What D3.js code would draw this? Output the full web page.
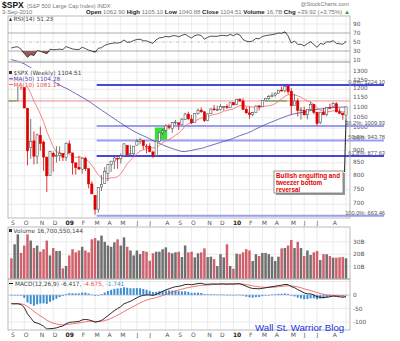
<!DOCTYPE html>
<html><head><meta charset="utf-8">
<script src="https://cdn.jsdelivr.net/npm/d3@7"></script>
<style>body{margin:0;background:#fff}svg{display:block}</style>
</head><body>
<svg id="c" width="400" height="341"></svg>
<script>
// ---------------- DATA ----------------
const firstWeekEnding = "2008-09-05";
// 49 weekly closes before the window (used for MA / RSI / MACD warm-up)
const priorClose = [1526.75,1557.59,1561.80,1500.63,1535.28,1509.65,1453.70,1458.74,1440.70,1481.14,1504.66,1467.95,1484.46,1478.49,1411.63,1401.02,1325.19,1330.61,1395.42,1331.29,1349.99,1353.11,1330.63,1293.37,1288.14,1329.51,1315.22,1370.40,1332.83,1390.33,1397.84,1413.90,1388.28,1425.35,1375.93,1400.38,1360.68,1360.03,1317.93,1278.38,1262.90,1239.49,1260.68,1257.76,1260.31,1296.32,1298.20,1292.20,1282.83];
const open = [1287.8,1249.5,1250.9,1255.4,1209.1,1097.6,912.8,942.0,876.8,966.3,
 936.8,873.2,801.2,888.6,876.1,879.7,887.2,872.4,929.2,890.4,
 849.6,832.5,825.4,868.2,826.8,770.0,729.6,684.0,758.8,771.8,
 809.1,842.5,856.9,868.3,866.2,879.2,922.0,884.2,887.0,923.3,
 940.1,943.4,918.1,919.0,894.3,880.0,940.6,979.0,990.2,1008.9,
 998.2,1026.1,1025.2,1016.4,1040.5,1067.9,1043.0,1026.0,1071.6,1088.2,
 1080.0,1036.2,1070.0,1094.1,1091.1,1091.5,1105.5,1106.4,1102.5,1127.0,
 1116.6,1145.0,1136.0,1092.4,1073.9,1065.5,1075.5,1110.0,1105.4,1138.4,
 1150.0,1160.0,1167.7,1178.1,1194.9,1192.1,1217.1,1188.6,1111.6,1136.0,
 1084.8,1087.3,1064.9,1092.0,1117.5,1077.5,1028.1,1077.2,1066.0,1102.9,
 1107.5,1121.1,1080.0,1073.0,1062.9];
const high = [1303.0,1274.4,1265.1,1255.4,1209.1,1098.0,1044.3,985.4,975.0,1007.5,
 943.5,873.2,896.3,896.3,918.9,918.9,887.2,934.7,943.9,890.4,
 851.6,877.9,870.8,875.0,826.8,779.4,729.6,758.3,803.0,833.0,
 845.6,856.9,875.6,871.8,888.7,930.2,922.0,924.6,920.0,951.7,
 956.2,943.4,928.0,931.9,898.7,944.0,979.8,996.7,1018.0,1020.2,
 1029.0,1039.5,1025.2,1048.2,1074.8,1080.2,1063.4,1071.5,1096.6,1101.4,
 1080.0,1071.5,1097.6,1113.7,1111.0,1119.1,1107.0,1117.7,1126.5,1130.4,
 1145.4,1150.4,1150.5,1103.7,1104.7,1080.0,1112.4,1112.4,1139.0,1150.0,
 1169.2,1181.0,1181.4,1194.7,1213.9,1219.8,1219.0,1205.1,1173.6,1150.0,
 1104.0,1105.7,1092.0,1131.2,1119.2,1078.6,1078.2,1099.1,1103.7,1121.0,
 1128.8,1129.2,1097.4,1073.0,1105.1];
const low = [1217.2,1233.4,1133.5,1197.2,1097.6,839.8,865.8,843.4,845.3,899.7,
 818.7,741.0,801.2,815.7,851.4,857.1,857.1,857.3,888.3,804.3,
 804.3,821.7,807.5,818.4,754.3,734.5,666.8,672.9,745.0,771.8,
 779.8,814.5,825.6,826.8,847.1,878.9,878.9,879.6,881.5,923.3,
 927.0,904.8,888.9,893.0,869.3,875.3,935.0,968.7,983.0,994.0,
 978.5,1016.2,991.0,1016.4,1040.5,1041.2,1019.0,1026.0,1065.1,1075.0,
 1029.4,1033.4,1070.0,1085.0,1083.1,1085.2,1085.9,1093.0,1102.5,1114.8,
 1116.6,1131.4,1090.2,1071.6,1044.5,1056.5,1075.5,1086.0,1105.4,1134.1,
 1141.5,1156.0,1159.0,1175.3,1186.8,1181.6,1173.2,1065.8,1111.6,1055.9,
 1040.8,1060.5,1042.2,1085.0,1066.6,1010.9,1018.4,1063.3,1056.9,1094.1,
 1104.0,1076.6,1069.3,1039.7,1040.9];
const close = [1242.3,1251.7,1255.1,1213.3,1099.2,899.2,940.6,876.8,968.8,931.0,
 873.3,800.0,896.2,876.1,879.7,887.9,872.8,931.8,890.4,850.1,
 832.0,825.9,868.6,826.8,770.1,735.1,683.4,756.6,768.5,815.9,
 842.5,856.6,869.6,866.2,877.5,929.2,882.9,887.0,919.1,940.1,
 946.2,921.2,918.9,896.4,879.1,940.4,979.3,987.5,1010.5,1004.1,
 1026.1,1028.9,1016.4,1042.7,1068.3,1044.4,1025.2,1071.5,1087.7,1079.6,
 1036.2,1069.3,1093.5,1091.4,1091.5,1106.0,1106.4,1102.5,1126.5,1115.1,
 1145.0,1136.0,1091.8,1073.9,1066.2,1075.5,1109.2,1104.5,1138.7,1150.0,
 1159.9,1166.6,1178.1,1194.4,1192.1,1217.3,1186.7,1110.9,1135.7,1087.7,
 1089.4,1064.9,1091.6,1117.5,1076.8,1022.6,1078.0,1064.9,1102.7,1101.6,
 1121.6,1079.3,1071.7,1064.6,1104.5];
const volumeB = [16.7,28,36,21,27,36,31,25,27,22,
 24,31,19,25,22.6,22.6,8.6,10.5,19,24,
 21.5,23,26,23,21.5,32,33,31,35,30,
 27,26,29.6,32,27,33.6,26,23,19,23,
 20,22.6,22,14.8,20.7,22,22,24,25.5,21.5,
 20.7,21.5,22,17.7,27,21.5,22,17.5,20.7,21.5,
 24.7,17.7,18,16,10.5,20,17.5,28,10.5,8.3,
 20.4,20,21.5,24,23,14.5,20,18.5,21,21,
 20,18,14.5,18,24.7,25,27,31.5,25,30,
 25,18.5,23,19.4,21.5,22.6,15.3,20,20,18.5,
 17.2,17.2,17.5,17.7,16.7];
const priceTicks = [700,750,800,850,900,950,1000,1050,1100,1150,1200,1250,1300];
const rsiTicks = [10,30,50,70,90];
const volTicks = [10,20,30];
const macdTicks = [0,-50,-100];
const fibPct = ["0.0%","38.2%","50.0%","61.8%","100.0%"];
const fibValue = [1224.10,1009.93,943.78,877.63,663.46];
const fibStartIndex = 26;          // week of the March 2009 low
const resistanceLevel = 1136;      // hand-drawn red line
const greenSegments = [[-1,1.7],[79.1,85.7]]; // bar-index spans of green marks on that level
const greenBox = {i0:44.6, i1:48.4, lo:943, hi:1003};
const noteLines = ["Bullish engulfing and","tweezer bottom","reversal"];

// ---------------- LAYOUT ----------------
const svg = d3.select("#c");
const L = 8, R = 350;
const P = {rsi:[16,62], main:[62,218], vol:[227,279], macd:[279,330]};
const n = close.length;
const x = d3.scaleLinear().domain([0, n-1]).range([11.4, 346]);
const yP = d3.scaleLog().domain([663.46, 1224.1]).range([215.7, 85]);
const yR = d3.scaleLinear().domain([10, 90]).range([60, 24]);
const yV = d3.scaleLinear().domain([0, 30]).range([279, 241.8]);
const yM = d3.scaleLinear().domain([-100, 0]).range([322, 295]);
const FONT = "DejaVu Sans, Verdana, sans-serif";
const AR = "Liberation Sans, Arial, sans-serif";

// dates
const t0 = d3.timeParse("%Y-%m-%d")(firstWeekEnding);
const dates = close.map((_, i) => d3.timeDay.offset(t0, 7*i));

// derived indicators
const all = priorClose.concat(close);
const off = priorClose.length;
const ma = k => close.map((_, i) => d3.mean(all.slice(off+i-k+1, off+i+1)));
const ma50 = ma(50), ma10 = ma(10);
function emaArr(a, k){const al=2/(k+1);const o=[];let e=null;
  a.forEach((v,i)=>{ if(v==null){o.push(null);return;} e = e==null? v : e + al*(v-e); o.push(e);}); return o;}
const e12 = emaArr(all,12), e26 = emaArr(all,26);
const macdAll = all.map((_,i)=> e12[i]-e26[i]);
const sigAll = emaArr(macdAll,9);
const macd = macdAll.slice(off), sig = sigAll.slice(off), hist = macd.map((m,i)=>m-sig[i]);
function rsiCalc(a,k){const o=new Array(a.length).fill(null);let g=0,l=0;
  for(let i=1;i<=k;i++){const d=a[i]-a[i-1]; if(d>0) g+=d; else l-=d;}
  let ag=g/k, al=l/k; o[k]=100-100/(1+ag/al);
  for(let i=k+1;i<a.length;i++){const d=a[i]-a[i-1];
    ag=(ag*(k-1)+Math.max(d,0))/k; al=(al*(k-1)+Math.max(-d,0))/k;
    o[i]= al===0?100:100-100/(1+ag/al);}
  return o;}
const rsi = rsiCalc(all,14).slice(off);
const prevClose = i => i===0 ? priorClose[priorClose.length-1] : close[i-1];

// month starts (first bar of each month)
const monthStarts = [];
dates.forEach((d,i)=>{ if(i===0 || d.getMonth()!==dates[i-1].getMonth()) monthStarts.push(i); });

// ---------------- PANELS / GRID ----------------
const g = svg.append("g");
Object.values(P).forEach(([t,b])=>{
  g.append("rect").attr("x",L).attr("y",t).attr("width",R-L).attr("height",b-t).attr("fill","#fff");
});
const grid = g.append("g").attr("stroke","#e3e3e3").attr("stroke-width",0.7);
Object.values(P).forEach(([t,b])=>{
  monthStarts.forEach(i=> grid.append("line").attr("x1",x(i)).attr("x2",x(i)).attr("y1",t).attr("y2",b));
});
priceTicks.forEach(v=> grid.append("line").attr("x1",L).attr("x2",R).attr("y1",yP(v)).attr("y2",yP(v)));
volTicks.forEach(v=> grid.append("line").attr("x1",L).attr("x2",R).attr("y1",yV(v)).attr("y2",yV(v)));
[50,0,-50,-100].forEach(v=> grid.append("line").attr("x1",L).attr("x2",R).attr("y1",yM(v)).attr("y2",yM(v)));
[90,10].forEach(v=> grid.append("line").attr("x1",L).attr("x2",R).attr("y1",yR(v)).attr("y2",yR(v)));

// axis labels (right)
const axT = svg.append("g").attr("font-family",FONT).attr("font-size",5.8).attr("fill","#555");
priceTicks.forEach(v=> axT.append("text").attr("x",353).attr("y",yP(v)+1).text(v));
rsiTicks.forEach(v=> axT.append("text").attr("x",353).attr("y",yR(v)+2).text(v));
volTicks.forEach(v=> axT.append("text").attr("x",353).attr("y",yV(v)+2).text(v+"B"));
macdTicks.forEach(v=> axT.append("text").attr("x",353).attr("y",yM(v)+2).text(v));

// date labels
[P.main[1]+7, P.macd[1]+7].forEach(yy=>{
  monthStarts.forEach(i=>{
    if (x(i) > 340) return;
    const d = dates[i];
    const isJan = d.getMonth()===0;
    axT.append("text").attr("x",x(i)-0.5).attr("y",yy).attr("font-size",6)
      .attr("font-weight",isJan?"bold":"normal").attr("fill",isJan?"#222":"#555")
      .text(isJan ? d3.timeFormat("%y")(d) : d3.timeFormat("%b")(d)[0]);
  });
});

// ---------------- RSI ----------------
const rsiG = svg.append("g");
[70,30].forEach(v=> rsiG.append("line").attr("x1",L).attr("x2",R).attr("y1",yR(v)).attr("y2",yR(v)).attr("stroke","#999").attr("stroke-width",0.8));
rsiG.append("line").attr("x1",L).attr("x2",R).attr("y1",yR(50)).attr("y2",yR(50)).attr("stroke","#aaa").attr("stroke-width",0.7).attr("stroke-dasharray","3,1.5,1,1.5");
rsiG.append("path").datum(rsi).attr("fill","#9a5a5a")
  .attr("d", d3.area().x((d,i)=>x(i)).y0(yR(30)).y1(d=>yR(Math.min(d,30))));
rsiG.append("path").datum(rsi).attr("fill","#7a9ac8")
  .attr("d", d3.area().x((d,i)=>x(i)).y0(yR(70)).y1(d=>yR(Math.max(d,70))));
rsiG.append("path").datum(rsi).attr("fill","none").attr("stroke","#222").attr("stroke-width",0.8)
  .attr("d", d3.line().x((d,i)=>x(i)).y(d=>yR(d)));

// ---------------- MAIN PRICE ----------------
const mg = svg.append("g");
mg.append("rect").attr("x",x(greenBox.i0)).attr("width",x(greenBox.i1)-x(greenBox.i0))
  .attr("y",yP(greenBox.hi)).attr("height",yP(greenBox.lo)-yP(greenBox.hi)).attr("fill","#33e033");
fibValue.forEach((v,k)=>{
  const strong = (fibPct[k]==="0.0%" || fibPct[k]==="61.8%");
  mg.append("line").attr("x1",x(fibStartIndex+0.5)).attr("x2",384).attr("y1",yP(v)).attr("y2",yP(v))
    .attr("stroke", strong ? "#0a0ad0" : "#9d9df0").attr("stroke-width", strong?1.6:2);
});
mg.append("line").attr("x1",L).attr("x2",R).attr("y1",yP(resistanceLevel)).attr("y2",yP(resistanceLevel))
  .attr("stroke","#ee8080").attr("stroke-width",0.9);
greenSegments.forEach(([a,b])=> mg.append("line").attr("x1",Math.max(L,x(a))).attr("x2",x(b))
  .attr("y1",yP(resistanceLevel)).attr("y2",yP(resistanceLevel)).attr("stroke","#2a9a2a").attr("stroke-width",0.9));
mg.append("path").datum(ma50).attr("fill","none").attr("stroke","#4a4aa8").attr("stroke-width",0.8)
  .attr("d", d3.line().x((d,i)=>x(i)).y(d=>yP(d)));
mg.append("path").datum(ma10).attr("fill","none").attr("stroke","#f06a6a").attr("stroke-width",0.8)
  .attr("d", d3.line().x((d,i)=>x(i)).y(d=>yP(d)));

// candles
const cg = mg.append("g");
close.forEach((c,i)=>{
  const o = open[i];
  const col = c < prevClose(i) ? "#dd0000" : "#555";
  const xc = x(i);
  cg.append("line").attr("x1",xc).attr("x2",xc).attr("y1",yP(high[i])).attr("y2",yP(low[i]))
    .attr("stroke",col).attr("stroke-width",0.8);
  const top = yP(Math.max(o,c)), bot = yP(Math.min(o,c));
  cg.append("rect").attr("x",xc-1.1).attr("width",2.2).attr("y",top).attr("height",Math.max(bot-top,0.8))
    .attr("fill", c < o ? col : "#fff").attr("stroke",col).attr("stroke-width",0.6);
});

// fib labels
const fl = svg.append("g").attr("font-family",AR).attr("font-size",5.7).attr("fill","#555").attr("text-anchor","end");
fibValue.forEach((v,k)=> fl.append("text").attr("x",385).attr("y",yP(v)-1.2).text(fibPct[k]+": "+v.toFixed(2)));

// legend of main
const lg = svg.append("g").attr("font-family",FONT).attr("font-size",5.8);
lg.append("rect").attr("x",L+0.5).attr("y",68).attr("width",45).attr("height",19).attr("fill","#fff").attr("opacity",0.9);
lg.append("rect").attr("x",9).attr("y",71).attr("width",3).attr("height",3).attr("fill","#333");
lg.append("text").attr("x",13.5).attr("y",75).attr("fill","#444").text("$SPX (Weekly) 1104.51");
lg.append("line").attr("x1",9).attr("x2",13).attr("y1",78.8).attr("y2",78.8).attr("stroke","#4a4aa8");
lg.append("text").attr("x",13.5).attr("y",80.8).attr("fill","#4a4aa8").text("MA(50) 1104.28");
lg.append("line").attr("x1",9).attr("x2",13).attr("y1",84.5).attr("y2",84.5).attr("stroke","#f06a6a");
lg.append("text").attr("x",13.5).attr("y",86.5).attr("fill","#e05050").text("MA(10) 1081.14");

// ---------------- VOLUME ----------------
const vg = svg.append("g");
volumeB.forEach((v,i)=>{
  vg.append("rect").attr("x",x(i)-1.25).attr("width",2.5).attr("y",yV(v)).attr("height",yV(0)-yV(v))
    .attr("fill", close[i] < prevClose(i) ? "#d0606c" : "#6f6f6f");
});
lg.append("rect").attr("x",9).attr("y",229).attr("width",3).attr("height",3).attr("fill","#333");
lg.append("text").attr("x",13.5).attr("y",232.5).attr("fill","#444").text("Volume 16,700,550,144");

// ---------------- MACD ----------------
const mcg = svg.append("g");
hist.forEach((h,i)=>{
  mcg.append("rect").attr("x",x(i)-1).attr("width",2).attr("y",Math.min(yM(h),yM(0)))
    .attr("height",Math.max(Math.abs(yM(h)-yM(0)),0.6)).attr("fill","#3b8fd0");
});
mcg.append("line").attr("x1",L).attr("x2",R).attr("y1",yM(0)).attr("y2",yM(0)).attr("stroke","#a8b8e8").attr("stroke-width",0.6);
mcg.append("path").datum(sig).attr("fill","none").attr("stroke","#f05050").attr("stroke-width",0.8)
  .attr("d", d3.line().x((d,i)=>x(i)).y(d=>yM(d)));
mcg.append("path").datum(macd).attr("fill","none").attr("stroke","#111").attr("stroke-width",0.9)
  .attr("d", d3.line().x((d,i)=>x(i)).y(d=>yM(d)));
lg.append("line").attr("x1",9).attr("x2",13).attr("y1",283.5).attr("y2",283.5).attr("stroke","#111").attr("stroke-width",1);
const mt = lg.append("text").attr("x",15).attr("y",285.5).attr("fill","#444");
mt.append("tspan").text("MACD(12,26,9) -6.417, ");
mt.append("tspan").attr("fill","#f05050").text("-4.675, ");
mt.append("tspan").attr("fill","#3b8fd0").text("-1.741");

// panel borders
Object.values(P).forEach(([t,b])=>{
  svg.append("rect").attr("x",L).attr("y",t).attr("width",R-L).attr("height",b-t)
    .attr("fill","none").attr("stroke","#aaa").attr("stroke-width",0.8);
});

// RSI legend
lg.append("path").attr("d","M9,21 L10.5,17.5 L12,21 Z").attr("fill","#333");
lg.append("text").attr("x",13.5).attr("y",21).attr("fill","#444").text("RSI(14) 51.23");

// ---------------- HEADER ----------------
const hd = svg.append("g").attr("font-family",AR);
hd.append("text").attr("x",2).attr("y",7.5).attr("font-size",8.5).attr("font-weight","bold").attr("fill","#111").text("$SPX");
hd.append("text").attr("x",27).attr("y",7.5).attr("font-size",5.6).attr("fill","#777").text("(S&P 500 Large Cap Index) INDX");
hd.append("text").attr("x",349).attr("y",6).attr("font-size",5.6).attr("fill","#777").attr("text-anchor","end").text("@StockCharts.com");
hd.append("text").attr("x",2).attr("y",14.3).attr("font-size",5.8).attr("fill","#777").text("3-Sep-2010");
const hl = hd.append("text").attr("x",86).attr("y",14.3).attr("font-size",5.9).attr("fill","#777")
  .attr("textLength",264).attr("lengthAdjust","spacingAndGlyphs");
[["Open","1062.90"],["High","1105.10"],["Low","1040.88"],["Close","1104.51"],["Volume","16.7B"],["Chg","+39.92 (+3.75%)"]]
 .forEach(([k,v])=>{ hl.append("tspan").attr("font-weight","bold").attr("fill","#222").text(k+" "); hl.append("tspan").text(v+" "); });
hl.append("tspan").attr("fill","#2a2").text("▲");

// ---------------- ANNOTATION ----------------
const an = svg.append("g");
an.append("rect").attr("x",276).attr("y",173).attr("width",69).attr("height",22).attr("fill","#999");
an.append("rect").attr("x",274).attr("y",171).attr("width",69).attr("height",22).attr("fill","#fff").attr("stroke","#777").attr("stroke-width",0.8);
an.append("line").attr("x1",344.5).attr("y1",172).attr("x2",x(n-1)).attr("y2",yP(low[n-1])).attr("stroke","#333").attr("stroke-width",1.1);
noteLines.forEach((s,k)=> an.append("text").attr("x",276).attr("y",177.6+k*7)
  .attr("font-family",AR).attr("font-size",6.3).attr("font-weight","bold").attr("fill","#e00000").text(s));

svg.append("text").attr("x",255).attr("y",330.5).attr("font-family",AR).attr("font-size",9.7)
  .attr("fill","#2233dd").text("Wall St. Warrior Blog");
</script>
</body></html>
